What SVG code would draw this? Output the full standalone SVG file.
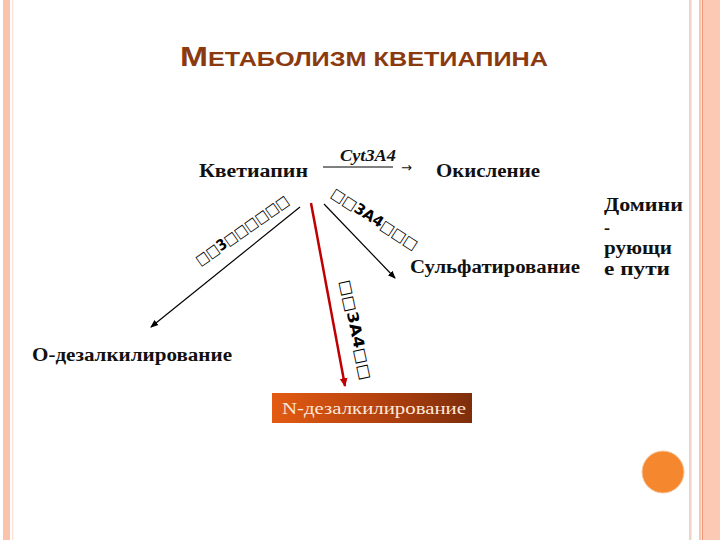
<svg xmlns="http://www.w3.org/2000/svg" width="720" height="540" viewBox="0 0 720 540">
<defs>
<style>
.lbl{font-family:"Liberation Serif","DejaVu Serif",serif;font-weight:bold;font-size:18px;fill:#111}
.tofu{font-family:"DejaVu Sans",sans-serif;font-weight:bold;font-size:15px;fill:#000}
.ttl{font-family:"Liberation Sans Narrow","Liberation Sans",Arial,sans-serif;font-weight:bold;fill:#8b3a10}
.conn{stroke:#000;stroke-width:1.2;fill:none}
</style>
<marker id="ah" markerWidth="8" markerHeight="8" refX="7" refY="4" orient="auto" markerUnits="userSpaceOnUse">
<path d="M0,0.8 L8,4 L0,7.2 Z" fill="#000"/>
</marker>
<marker id="ahr" markerWidth="10" markerHeight="10" refX="8" refY="5" orient="auto" markerUnits="userSpaceOnUse">
<path d="M0,1 L9,5 L0,9 Z" fill="#c00000"/>
</marker>
<linearGradient id="ng" x1="0" y1="0" x2="1" y2="0">
<stop offset="0" stop-color="#e35b12"/>
<stop offset="0.5" stop-color="#b8430f"/>
<stop offset="1" stop-color="#7e2e0c"/>
</linearGradient>
</defs>
<rect width="720" height="540" fill="#fff"/>
<g id="border">
<rect x="3" y="0" width="7" height="540" fill="#fbc3ab"/>
<rect x="12" y="0" width="1.5" height="540" fill="#fde4d8"/>
<rect x="689" y="0" width="2.5" height="540" fill="#efd3c4"/>
<rect x="699" y="0" width="2.5" height="540" fill="#f6c6b2"/>
<rect x="702" y="0" width="1.5" height="540" fill="#f29a78"/>
<rect x="703.5" y="0" width="16.5" height="540" fill="#fcc9b4"/>
</g>
<g id="title">
<text class="ttl" x="180" y="66" textLength="368" lengthAdjust="spacingAndGlyphs"><tspan font-size="28">М</tspan><tspan font-size="21">ЕТАБОЛИЗМ КВЕТИАПИНА</tspan></text>
</g>
<g id="connectors">
<line class="conn" x1="300" y1="207" x2="151" y2="327" marker-end="url(#ah)"/>
<line class="conn" x1="324" y1="204" x2="395" y2="278" marker-end="url(#ah)"/>
<line x1="311" y1="203" x2="345" y2="386" stroke="#c00000" stroke-width="2.5" marker-end="url(#ahr)"/>
<line x1="323" y1="167" x2="393" y2="167" stroke="#000" stroke-width="1"/>
</g>
<g id="node-kvetiapin"><text class="lbl" x="199" y="177" textLength="109" lengthAdjust="spacingAndGlyphs">Кветиапин</text></g>
<g id="node-cyt"><text x="340" y="161" font-family="Liberation Serif, DejaVu Serif, serif" font-style="italic" font-weight="bold" font-size="17" fill="#111" textLength="56" lengthAdjust="spacingAndGlyphs">Cyt3A4</text>
<text x="401" y="172" font-family="DejaVu Sans, sans-serif" font-size="13" fill="#111">→</text></g>
<g id="node-okislenie"><text class="lbl" x="436" y="177" textLength="104" lengthAdjust="spacingAndGlyphs">Окисление</text></g>
<g id="node-sulf"><text class="lbl" x="410" y="273" textLength="170" lengthAdjust="spacingAndGlyphs">Сульфатирование</text></g>
<g id="node-odez"><text class="lbl" x="32" y="361" textLength="200" lengthAdjust="spacingAndGlyphs">О-дезалкилирование</text></g>
<g id="node-dom"><text class="lbl" x="604" y="211" textLength="79" lengthAdjust="spacingAndGlyphs">Домини</text><text class="lbl" x="604" y="234">-</text><text class="lbl" x="604" y="254" textLength="68" lengthAdjust="spacingAndGlyphs">рующи</text><text class="lbl" x="604" y="275" textLength="66" lengthAdjust="spacingAndGlyphs">е пути</text></g>
<g id="node-ndez">
<rect x="272" y="393" width="200" height="30" fill="url(#ng)"/>
<text x="282" y="414" font-family="Liberation Serif, DejaVu Serif, serif" font-size="16" fill="#fde8d8" textLength="184" lengthAdjust="spacingAndGlyphs">N-дезалкилирование</text>
</g>
<g id="tofu-labels">
<text class="tofu" transform="translate(200,266) rotate(-35)" textLength="110" lengthAdjust="spacingAndGlyphs">□□3□□□□□□</text>
<text class="tofu" transform="translate(330,196) rotate(33)" textLength="100" lengthAdjust="spacingAndGlyphs">□□3A4□□□</text>
<text class="tofu" transform="translate(340,281) rotate(78)" textLength="102" lengthAdjust="spacingAndGlyphs">□□3A4□□</text>
</g>
<circle cx="663" cy="472" r="21" fill="#f5882e" stroke="#f7c8a0" stroke-width="1"/>
</svg>
